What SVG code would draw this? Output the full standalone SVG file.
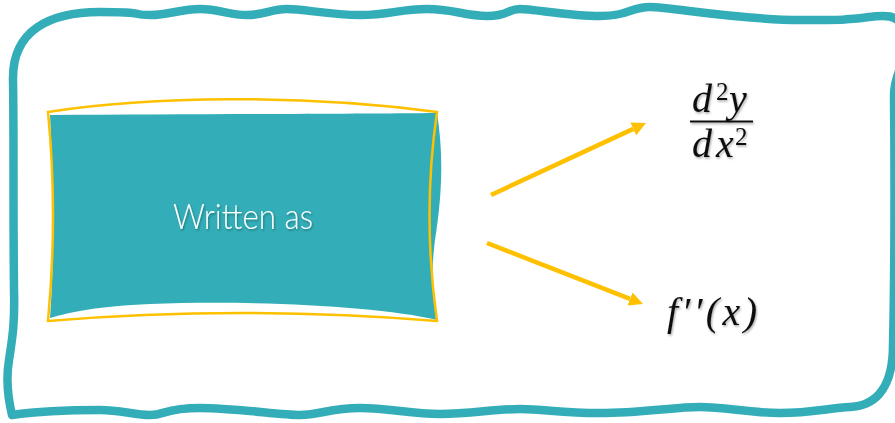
<svg xmlns="http://www.w3.org/2000/svg" width="895" height="423" viewBox="0 0 895 423">
<style>
.frame{fill:none;stroke:#33AEB8;stroke-width:8.5;stroke-linecap:round;stroke-linejoin:round}
.fill{fill:#33AEB8}
.outline{fill:none;stroke:#FFC000;stroke-width:2.5;stroke-linejoin:miter}
.conn{fill:none;stroke:#FFC000;stroke-width:4.5}
.label{font-family:Lato,"Open Sans","Liberation Sans",sans-serif;font-weight:300;fill:#FFFFFF}
.math{font-family:"Liberation Serif","DejaVu Serif",serif;font-style:italic;fill:#111111}
.sup{font-style:normal}
</style>
<defs>
<marker id="head" markerUnits="userSpaceOnUse" markerWidth="16" markerHeight="16" refX="0" refY="7" orient="auto">
<path d="M0,0 L14,7 L0,14 z" fill="#FFC000"/>
</marker>
<filter id="shadow" x="-10%" y="-10%" width="130%" height="140%">
<feDropShadow dx="1" dy="1.5" stdDeviation="1" flood-color="#000000" flood-opacity="0.35"/>
</filter>
</defs>

<g id="frame">
<path class="frame" d="M12,415 C6,390 7,372 9,360 C12,340 15,325 14,290 C13,200 14,140 13,80 C12,30 50,12 100,12 S130,15 150,15 S180,9 200,9 S228,15 247,15 S270,9 287,9 S330,15 360,15 S400,9 427,9 S465,16 487,16 S507,9 520,9 S570,16 600,16 S630,7 650,7 S740,20 800,20 S835,20 850,19 C875,18 895,8 905,30 C910,60 894,70 894,95 C895,200 894,300 893,345 C893,395 870,406 850,407 S810,413 780,413 S725,407 700,407 S640,413 600,413 S545,409 520,409 S470,414 440,414 S390,408 360,408 S320,415 300,415 S235,408 200,408 S165,415 150,415 S120,410 100,410 S40,411 12,415"/>
</g>

<g id="written-as">
<path class="fill" d="M50,115 C200,114 350,114 437,113 C443,150 443,190 435,240 C431,270 432,300 437,320 C380,306 250,300 150,304 C100,306 70,312 50,318 C55,250 53,180 50,115 Z"/>
<path class="outline" d="M48,112 C150,96 300,94 437,112 Q422,215 437,321 Q240,305 48,321 Q58,215 48,112 Z"/>
<text class="label" x="243" y="229" font-size="35" text-anchor="middle" textLength="140" lengthAdjust="spacingAndGlyphs" filter="url(#shadow)">Written as</text>
</g>

<g id="second-derivative-fraction" filter="url(#shadow)">
<text class="math" font-size="40"><tspan x="692" y="112">d</tspan><tspan class="sup" x="716" y="100" font-size="25">2</tspan><tspan x="729" y="112">y</tspan></text>
<rect x="690" y="120.5" width="63" height="2" fill="#111111"/>
<text class="math" font-size="40"><tspan x="692" y="157">d</tspan><tspan x="716" y="157">x</tspan><tspan class="sup" x="735" y="145" font-size="25">2</tspan></text>
</g>

<g id="prime-notation" filter="url(#shadow)">
<text class="math" font-size="40" x="667" y="325" textLength="90" lengthAdjust="spacing">f′′(x)</text>
</g>

<g id="connectors">
<line class="conn" x1="491" y1="195" x2="633.3" y2="128.9" marker-end="url(#head)"/>
<line class="conn" x1="487" y1="243" x2="630" y2="298.9" marker-end="url(#head)"/>
</g>
</svg>
